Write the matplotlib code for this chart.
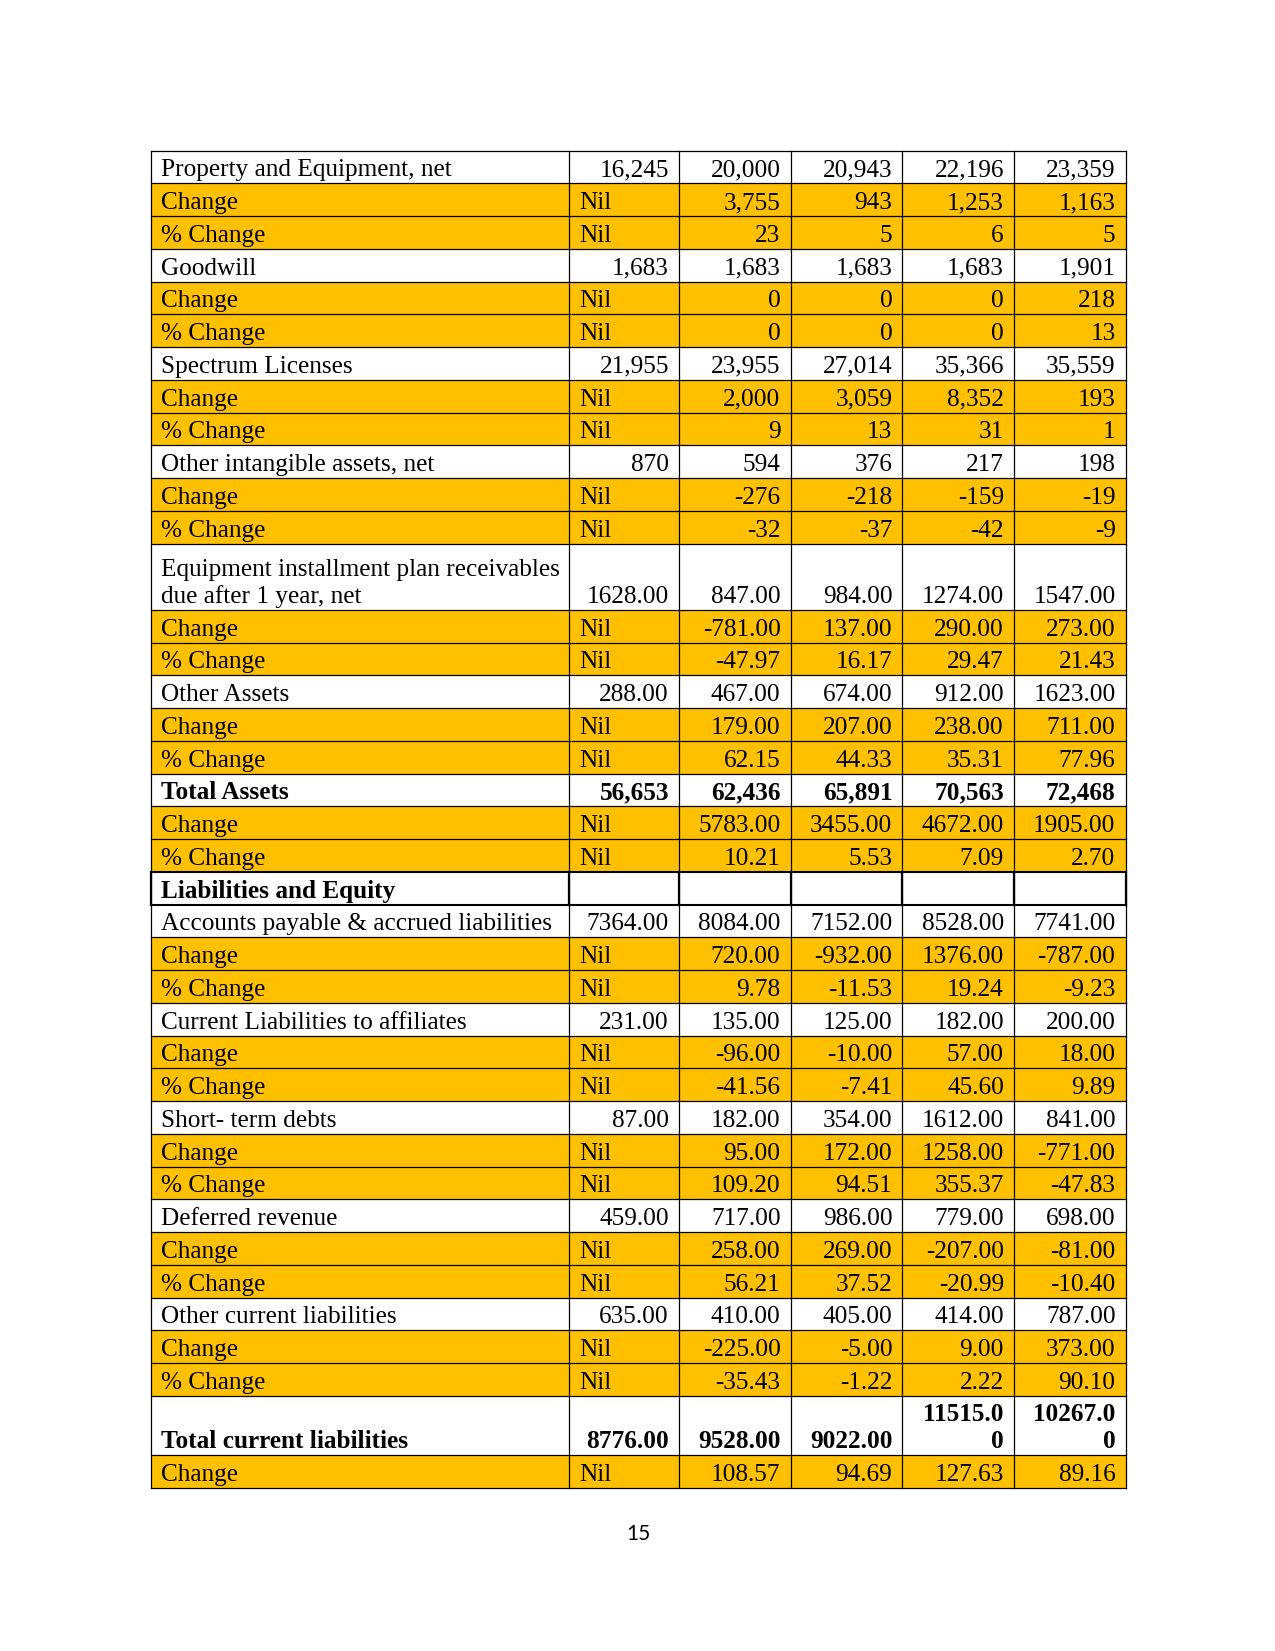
import matplotlib
matplotlib.use("Agg")
import matplotlib.pyplot as plt
from matplotlib.patches import Rectangle

# ---------------------------------------------------------------------------
# Data
# ---------------------------------------------------------------------------
LABELS = [
    "Property and Equipment, net", "Change", "% Change",
    "Goodwill", "Change", "% Change",
    "Spectrum Licenses", "Change", "% Change",
    "Other intangible assets, net", "Change", "% Change",
    "Equipment installment plan receivables\ndue after 1 year, net", "Change", "% Change",
    "Other Assets", "Change", "% Change",
    "Total Assets", "Change", "% Change",
    "Liabilities and Equity",
    "Accounts payable & accrued liabilities", "Change", "% Change",
    "Current Liabilities to affiliates", "Change", "% Change",
    "Short- term debts", "Change", "% Change",
    "Deferred revenue", "Change", "% Change",
    "Other current liabilities", "Change", "% Change",
    "Total current liabilities", "Change",
]

VALUES = [
    ["16,245", "20,000", "20,943", "22,196", "23,359"],
    ["Nil", "3,755", "943", "1,253", "1,163"],
    ["Nil", "23", "5", "6", "5"],
    ["1,683", "1,683", "1,683", "1,683", "1,901"],
    ["Nil", "0", "0", "0", "218"],
    ["Nil", "0", "0", "0", "13"],
    ["21,955", "23,955", "27,014", "35,366", "35,559"],
    ["Nil", "2,000", "3,059", "8,352", "193"],
    ["Nil", "9", "13", "31", "1"],
    ["870", "594", "376", "217", "198"],
    ["Nil", "-276", "-218", "-159", "-19"],
    ["Nil", "-32", "-37", "-42", "-9"],
    ["1628.00", "847.00", "984.00", "1274.00", "1547.00"],
    ["Nil", "-781.00", "137.00", "290.00", "273.00"],
    ["Nil", "-47.97", "16.17", "29.47", "21.43"],
    ["288.00", "467.00", "674.00", "912.00", "1623.00"],
    ["Nil", "179.00", "207.00", "238.00", "711.00"],
    ["Nil", "62.15", "44.33", "35.31", "77.96"],
    ["56,653", "62,436", "65,891", "70,563", "72,468"],
    ["Nil", "5783.00", "3455.00", "4672.00", "1905.00"],
    ["Nil", "10.21", "5.53", "7.09", "2.70"],
    ["", "", "", "", ""],
    ["7364.00", "8084.00", "7152.00", "8528.00", "7741.00"],
    ["Nil", "720.00", "-932.00", "1376.00", "-787.00"],
    ["Nil", "9.78", "-11.53", "19.24", "-9.23"],
    ["231.00", "135.00", "125.00", "182.00", "200.00"],
    ["Nil", "-96.00", "-10.00", "57.00", "18.00"],
    ["Nil", "-41.56", "-7.41", "45.60", "9.89"],
    ["87.00", "182.00", "354.00", "1612.00", "841.00"],
    ["Nil", "95.00", "172.00", "1258.00", "-771.00"],
    ["Nil", "109.20", "94.51", "355.37", "-47.83"],
    ["459.00", "717.00", "986.00", "779.00", "698.00"],
    ["Nil", "258.00", "269.00", "-207.00", "-81.00"],
    ["Nil", "56.21", "37.52", "-20.99", "-10.40"],
    ["635.00", "410.00", "405.00", "414.00", "787.00"],
    ["Nil", "-225.00", "-5.00", "9.00", "373.00"],
    ["Nil", "-35.43", "-1.22", "2.22", "90.10"],
    ["8776.00", "9528.00", "9022.00", "11515.0\n0", "10267.0\n0"],
    ["Nil", "108.57", "94.69", "127.63", "89.16"],
]

BOLD_ROWS = {"Total Assets", "Liabilities and Equity", "Total current liabilities"}
PAGE_NO = "15"

# ---------------------------------------------------------------------------
# Layout (pixels on the 1275 x 1651 page)
# ---------------------------------------------------------------------------
YELLOW = "#FFC000"
COL_X = [150.6, 568.5, 679.0, 790.6, 902.3, 1013.9, 1125.5]
TOP = 150.6
ROW_H = 32.75
TALL_H = {12: 66.3, 37: 59.0}
LINE_H = 26.5
FS = 18.2

fig = plt.figure(figsize=(12.75, 16.51), dpi=100)
ax = fig.add_axes([0, 0, 1, 1])
ax.set_xlim(0, 1275)
ax.set_ylim(1651, 0)
ax.axis("off")

plt.rcParams["font.family"] = ["Liberation Serif", "DejaVu Serif"]

y = TOP
row_edges = [y]
for i in range(len(LABELS)):
    y += TALL_H.get(i, ROW_H)
    row_edges.append(y)


def draw_cell_text(text, x, bottom, ha, weight):
    lines = text.split("\n")
    n = len(lines)
    for k, line in enumerate(lines):
        base = bottom - 7.0 - (n - 1 - k) * LINE_H
        ax.text(x, base, line, ha=ha, va="baseline", fontsize=FS,
                fontweight=weight, color="black")


for i, (label, vals) in enumerate(zip(LABELS, VALUES)):
    y0, y1 = row_edges[i], row_edges[i + 1]
    shaded = label in ("Change", "% Change")
    if shaded:
        ax.add_patch(Rectangle((COL_X[0], y0), COL_X[-1] - COL_X[0], y1 - y0,
                               facecolor=YELLOW, edgecolor="none", zorder=0))
    weight = "bold" if label in BOLD_ROWS else "normal"
    draw_cell_text(label, COL_X[0] + 10.5, y1, "left", weight)
    for j, v in enumerate(vals):
        if not v:
            continue
        if v == "Nil":
            draw_cell_text(v, COL_X[j + 1] + 11, y1, "left", weight)
        else:
            draw_cell_text(v, COL_X[j + 2] - 10, y1, "right", weight)

# grid lines
for i, ye in enumerate(row_edges):
    thick = i in (21, 22)
    ax.plot([COL_X[0], COL_X[-1]], [ye, ye], color="black",
            lw=1.5 if thick else 0.9, solid_capstyle="projecting", zorder=3)
for xe in COL_X:
    ax.plot([xe, xe], [row_edges[0], row_edges[-1]], color="black",
            lw=0.9, solid_capstyle="projecting", zorder=3)
    ax.plot([xe, xe], [row_edges[21], row_edges[22]], color="black",
            lw=1.6, solid_capstyle="projecting", zorder=3)

ax.text(638, 1534, PAGE_NO, ha="center", va="center", fontsize=15,
        family=["Lato", "DejaVu Sans"], color="black")

fig.savefig("out.png", dpi=100, facecolor="white")
